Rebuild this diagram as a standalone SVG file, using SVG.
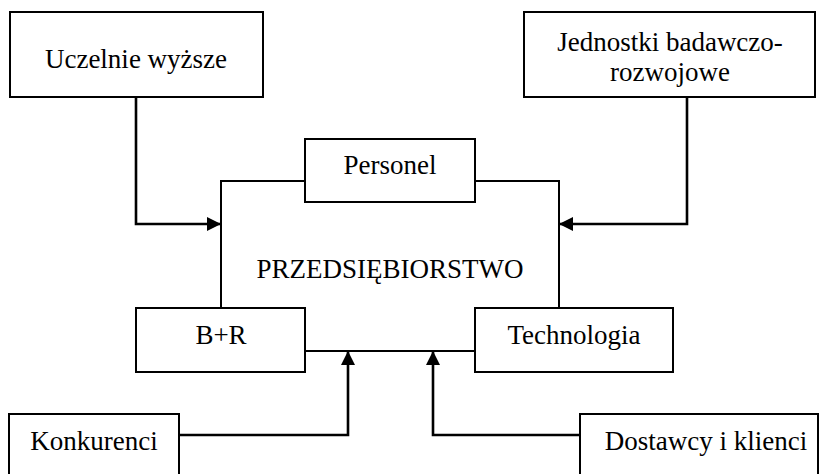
<svg xmlns="http://www.w3.org/2000/svg" width="823" height="474" viewBox="0 0 823 474">
<style>
.box{fill:#fff;stroke:#000;stroke-width:2}
.t{font-family:"Liberation Serif","DejaVu Serif","Times New Roman",serif;font-size:27px;fill:#000;text-anchor:middle}
.ln{fill:none;stroke:#000;stroke-width:2}
.ar{fill:none;stroke:#000;stroke-width:2.6}
</style>
<defs>
<marker id="ah" viewBox="0 0 14 14" refX="14" refY="7" markerWidth="14" markerHeight="14" markerUnits="userSpaceOnUse" orient="auto">
<path d="M0,0 L14,7 L0,14 Z" fill="#000"/>
</marker>
</defs>
<rect width="823" height="474" fill="#fff"/>
<g id="connectors">
<path class="ln" d="M305,181 H221 V308"/>
<path class="ln" d="M475,181 H559 V308"/>
<path class="ln" d="M305,351 H475"/>
<path class="ar" d="M136,97 V224 H221" marker-end="url(#ah)"/>
<path class="ar" d="M687,97 V224 H559" marker-end="url(#ah)"/>
<path class="ar" d="M179,435 H348 V351" marker-end="url(#ah)"/>
<path class="ar" d="M580,435 H433 V351" marker-end="url(#ah)"/>
</g>
<g id="uczelnie">
<rect class="box" x="10" y="12" width="253" height="85"/>
<text class="t" x="136" y="68" font-family="Liberation Serif, serif">Uczelnie wyższe</text>
</g>
<g id="jednostki">
<rect class="box" x="524" y="12" width="291" height="85"/>
<text class="t" x="670" y="51" font-family="Liberation Serif, serif">Jednostki badawczo-</text>
<text class="t" x="670" y="81" font-family="Liberation Serif, serif">rozwojowe</text>
</g>
<g id="personel">
<rect class="box" x="305" y="139" width="170" height="63"/>
<text class="t" x="390" y="174" font-family="Liberation Serif, serif">Personel</text>
</g>
<g id="przedsiebiorstwo">
<text class="t" x="390" y="278" font-family="Liberation Serif, serif">PRZEDSIĘBIORSTWO</text>
</g>
<g id="br">
<rect class="box" x="136" y="308" width="169" height="64"/>
<text class="t" x="221" y="344" font-family="Liberation Serif, serif">B+R</text>
</g>
<g id="technologia">
<rect class="box" x="475" y="308" width="198" height="64"/>
<text class="t" x="574" y="344" font-family="Liberation Serif, serif">Technologia</text>
</g>
<g id="konkurenci">
<rect class="box" x="9" y="414" width="170" height="70"/>
<text class="t" x="94" y="450" font-family="Liberation Serif, serif">Konkurenci</text>
</g>
<g id="dostawcy">
<rect class="box" x="580" y="414" width="238" height="70"/>
<text class="t" x="706" y="450" font-family="Liberation Serif, serif">Dostawcy i klienci</text>
</g>
</svg>
